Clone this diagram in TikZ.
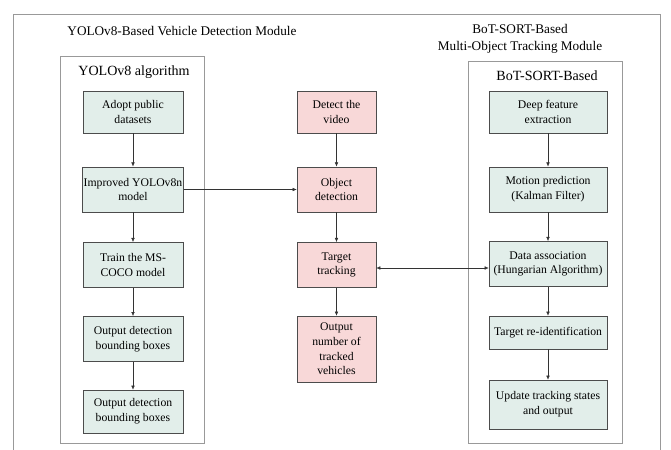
\documentclass[tikz,border=0pt]{standalone}
\usepackage{fontspec}
\setmainfont{Liberation Serif}
\usetikzlibrary{arrows.meta}

\begin{document}
\begin{tikzpicture}[
    x=0.03cm, y=-0.03cm,
    step box/.style={draw=black!70, thin, align=center, inner sep=1pt,
                     font=\fontsize{10}{12.5}\selectfont, minimum height=1.36cm},
    verde/.style={step box, fill=colorVerde},
    rosa/.style={step box, fill=colorRosa, minimum width=2.37cm},
    cornice/.style={draw=black!40, semithick},
    titolo/.style={font=\fontsize{12}{14.5}\selectfont, align=center},
    modulo/.style={font=\fontsize{11.3}{14.5}\selectfont, align=center},
    freccia/.style={draw=black!80, -{Latex[length=3.5pt,width=3pt]}}
    ]
    % Colori
    \definecolor{colorVerde}{RGB}{226, 238, 234}
    \definecolor{colorRosa}{RGB}{248, 216, 216}

    \useasboundingbox (0,0) rectangle (671,450);

    % Cornici
    \draw[cornice] (13,450) -- (13,14) -- (660,14) -- (660,450);
    \draw[cornice] (60,56) rectangle (204,443);
    \draw[cornice] (468,61) rectangle (622,443);

    % Titoli
    \node[modulo] (titoloYolo) at (182,31) {YOLOv8-Based Vehicle Detection Module};
    \node[modulo] (titoloBot) at (520,39) {BoT-SORT-Based\\Multi-Object Tracking Module};
    \node[titolo] (algoYolo) at (134,72) {YOLOv8 algorithm};
    \node[titolo] (algoBot) at (547,76) {BoT-SORT-Based};

    % Colonna YOLOv8
    \node[verde, minimum width=3cm, minimum height=1.26cm] (dataset) at (133,112) {Adopt public\\datasets};
    \node[verde, minimum width=3cm] (migliorato) at (133,189.5) {Improved YOLOv8n\\model};
    \node[verde, minimum width=3cm] (addestra) at (133,265) {Train the MS-\\COCO model};
    \node[verde, minimum width=3cm] (uscita1) at (133,339) {Output detection\\bounding boxes};
    \node[verde, minimum width=3cm, minimum height=1.29cm] (uscita2) at (133,411.5) {Output detection\\bounding boxes};

    % Colonna centrale
    \node[rosa, minimum height=1.26cm] (video) at (336.5,112) {Detect the\\video};
    \node[rosa] (rilevamento) at (336.5,189.5) {Object\\detection};
    \node[rosa] (tracciamento) at (336.5,265) {Target\\tracking};
    \node[rosa, minimum height=1.98cm] (conteggio) at (336.5,349) {Output\\number of\\tracked\\vehicles};

    % Colonna BoT-SORT
    \node[verde, minimum width=3.54cm, minimum height=1.26cm] (feature) at (548,112) {Deep feature\\extraction};
    \node[verde, minimum width=3.54cm] (moto) at (548,189.5) {Motion prediction\\(Kalman Filter)};
    \node[verde, minimum width=3.54cm] (associa) at (548,264) {Data association\\(Hungarian Algorithm)};
    \node[verde, minimum width=3.54cm, minimum height=0.99cm] (reid) at (548,332.5) {Target re-identification};
    \node[verde, minimum width=3.54cm, minimum height=1.47cm] (aggiorna) at (548,404.5) {Update tracking states\\and output};

    % Frecce verticali
    \draw[freccia] (dataset) -- (migliorato);
    \draw[freccia] (migliorato) -- (addestra);
    \draw[freccia] (addestra) -- (uscita1);
    \draw[freccia] (uscita1) -- (uscita2);

    \draw[freccia] (video) -- (rilevamento);
    \draw[freccia] (rilevamento) -- (tracciamento);
    \draw[freccia] (tracciamento) -- (conteggio);

    \draw[freccia] (feature) -- (moto);
    \draw[freccia] (moto) -- (associa);
    \draw[freccia] (associa) -- (reid);
    \draw[freccia] (reid) -- (aggiorna);

    % Collegamenti orizzontali
    \draw[freccia] (migliorato.east) -- (rilevamento.west);
    \draw[freccia, {Latex[length=3.5pt,width=3pt]}-{Latex[length=3.5pt,width=3pt]}] ([yshift=-0.09cm]tracciamento.east) -- ([yshift=-0.09cm]tracciamento.east -| associa.west);
    \end{tikzpicture}
\end{document}
